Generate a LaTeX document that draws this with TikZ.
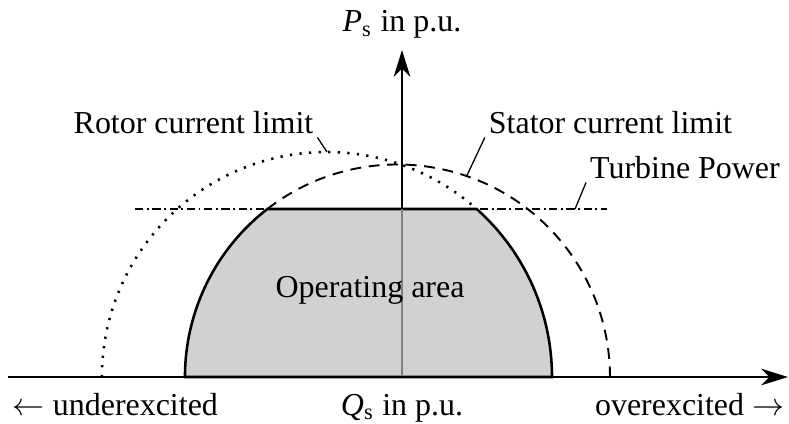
\documentclass[tikz,border=0pt]{standalone}
\usepackage{fontspec}
\setmainfont{Liberation Serif}
\usepackage{tikz}
\usetikzlibrary{calc,arrows.meta,positioning}
\tikzset{
    axis/.style={semithick,-{Stealth[length=8.4pt,width=5.2pt,inset=2.6pt]}},
    rotorlim/.style={line width=0.8pt,dash pattern=on 0.7pt off 2.3pt},
    statorlim/.style={semithick,dash pattern=on 3.4pt off 2.4pt},
    turbine/.style={semithick,dash pattern=on 2.6pt off 1.1pt on 0.6pt off 1.1pt},
    leader/.style={thin},
    lbl/.style={inner sep=1pt,anchor=base},
}

\begin{document}
\begin{tikzpicture}[scale=1.1,font=\fontsize{10}{12}\selectfont,semithick]
    \useasboundingbox (-4.02,-0.46) rectangle (3.87,3.77);
    \coordinate (O) at (0,0);
    \coordinate (statc) at (-0.045,0);
    \coordinate (rotc) at (-0.75,0);
    \coordinate (cornerl) at ($(statc)+(127.75:2.125)$);
    \coordinate (cornerr) at ($(rotc)+(48.29:2.25)$);
    \coordinate (statl) at ($(statc)+(180:2.125)$);
    \coordinate (rotl) at ($(rotc)+(180:2.25)$);
    \fill [black!18] (statl) arc [start angle=180, end angle=127.75, radius=2.125] -- (cornerr) arc [start angle=48.29, end angle=0, radius=2.25] -- cycle;
    \draw [turbine] (-2.67,1.68) coordinate (tl) -- (2.05,1.68) coordinate (tr);
    \draw [rotorlim] (rotl) arc [start angle=180, end angle=48.29, radius=2.25];
    \draw [statorlim] (cornerl) arc [start angle=127.75, end angle=0, radius=2.125];
    \draw [thick] (statl) arc [start angle=180, end angle=127.75, radius=2.125] -- (cornerr) arc [start angle=48.29, end angle=0, radius=2.25] -- cycle;
    \draw [thin,black!50] (O) -- (0,1.68) coordinate (ptop);
    \draw [axis] (ptop) -- (0,3.27) node [above] (ps) {\textit{P}\textsubscript{s} in p.u.};
    \draw [axis] (-3.94,0) -- (3.86,0);
    \node [lbl] (qs) at (0,-0.38) {\textit{Q}\textsubscript{s} in p.u.};
    \node [lbl,anchor=base west,inner sep=0] (under) at (-3.90,-0.38) {$\leftarrow$ underexcited};
    \node [lbl,anchor=base east,inner sep=0] (over) at (3.83,-0.38) {overexcited $\rightarrow$};
    \node [lbl] (opa) at (-0.32,0.80) {Operating area};
    \node [lbl] (rotlab) at (-2.085,2.44) {Rotor current limit};
    \node [lbl] (statlab) at (2.085,2.44) {Stator current limit};
    \node [lbl] (turblab) at (2.83,1.99) {Turbine Power};
    \coordinate (rtop) at ($(rotc)+(90:2.25)$);
    \coordinate (spt) at ($(statc)+(71:2.125)$);
    \coordinate (tpt) at (1.73,1.68);
    \draw [leader] (rotlab.south east) -- (rtop);
    \draw [leader] (statlab.south west) -- (spt);
    \draw [leader] (turblab.south west) -- (tpt);
\end{tikzpicture}
\end{document}
